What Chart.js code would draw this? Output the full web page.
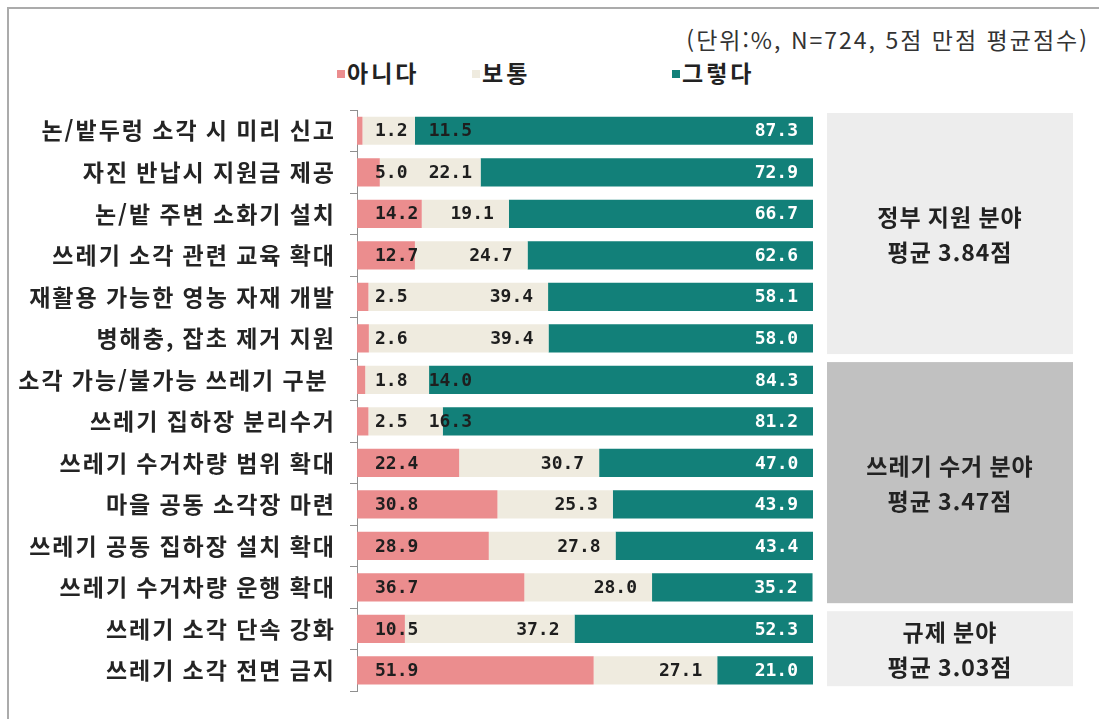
<!DOCTYPE html>
<html lang="ko">
<head>
<meta charset="utf-8">
<script src="https://cdn.jsdelivr.net/npm/chart.js@4/dist/chart.umd.min.js"></script>
<style>
  body { margin: 0; background: #fff; }
  #wrap { position: relative; width: 1099px; height: 719px; overflow: hidden; }
  #frame { position: absolute; left: 7px; top: 7px; right: -4px; bottom: -4px;
           border-left: 2px solid #ababab; border-top: 2px solid #ababab; }
  #unit { position: absolute; right: 10px; top: 22px; font: 23px "Noto Sans CJK KR";
          letter-spacing: 2px; color: #333; white-space: nowrap; }
  #legend { position: absolute; top: 55px; left: 0; font: bold 23px "Noto Sans CJK KR";
            letter-spacing: 3px; color: #222; }
  #legend span { position: absolute; white-space: nowrap; }
  #legend i { display: inline-block; width: 8px; height: 8px; margin-right: 2px; vertical-align: 4px; }
  canvas { position: absolute; left: 0; top: 0; }
</style>
</head>
<body>
<div id="wrap">
  <div id="frame"></div>
  <div id="unit">(단위:%, N=724, 5점 만점 평균점수)</div>
  <div id="legend"></div>
  <canvas id="chart" width="1099" height="719"></canvas>
</div>
<script>
// 항목 (위에서 아래 순서)
var items = [
  "논/밭두렁 소각 시 미리 신고",
  "자진 반납시 지원금 제공",
  "논/밭 주변 소화기 설치",
  "쓰레기 소각 관련 교육 확대",
  "재활용 가능한 영농 자재 개발",
  "병해충, 잡초 제거 지원",
  "소각 가능/불가능 쓰레기 구분 ",
  "쓰레기 집하장 분리수거",
  "쓰레기 수거차량 범위 확대",
  "마을 공동 소각장 마련",
  "쓰레기 공동 집하장 설치 확대",
  "쓰레기 수거차량 운행 확대",
  "쓰레기 소각 단속 강화",
  "쓰레기 소각 전면 금지"
];

var seriesNames = ["아니다", "보통", "그렇다"];
var no      = [1.2, 5.0, 14.2, 12.7, 2.5, 2.6, 1.8, 2.5, 22.4, 30.8, 28.9, 36.7, 10.5, 51.9];
var neutral = [11.5, 22.1, 19.1, 24.7, 39.4, 39.4, 14.0, 16.3, 30.7, 25.3, 27.8, 28.0, 37.2, 27.1];
var yes     = [87.3, 72.9, 66.7, 62.6, 58.1, 58.0, 84.3, 81.2, 47.0, 43.9, 43.4, 35.2, 52.3, 21.0];

// 분야 구분 (항목 인덱스 범위)
var groupNames  = ["정부 지원 분야", "쓰레기 수거 분야", "규제 분야"];
var groupScores = ["평균 3.84점", "평균 3.47점", "평균 3.03점"];
var groupFirst  = [0, 6, 12];
var groupLast   = [5, 11, 13];

var colors = ["#eb8d8e", "#efebdf", "#128079"];
var groupColors = ["#ededed", "#c1c1c1", "#eeeeee"];

// 범례
var legendX = [337, 472, 672];
var legendBox = document.getElementById("legend");
seriesNames.forEach(function (name, i) {
  var s = document.createElement("span");
  s.style.left = legendX[i] + "px";
  s.innerHTML = '<i style="background:' + colors[i] + '"></i>' + name;
  legendBox.appendChild(s);
});

// 항목 글자 간격
var textSpacing = {
  id: "textSpacing",
  beforeUpdate: function (chart) { chart.ctx.letterSpacing = "2px"; }
};

// 막대 위 수치
var valueLabels = {
  id: "valueLabels",
  afterDatasetsDraw: function (chart) {
    var ctx = chart.ctx;
    var area = chart.chartArea;
    ctx.save();
    ctx.letterSpacing = "0px";
    ctx.font = "bold 18px 'DejaVu Sans Mono'";
    ctx.textBaseline = "middle";
    chart.data.datasets.forEach(function (ds, di) {
      chart.getDatasetMeta(di).data.forEach(function (bar, i) {
        var v = ds.data[i].toFixed(1);
        var left = Math.min(bar.x, bar.base);
        var right = Math.max(bar.x, bar.base);
        if (di === 0) {
          ctx.fillStyle = "#1e1e1e";
          ctx.textAlign = "left";
          ctx.fillText(v, left + 18, bar.y + 1);
        } else if (di === 1) {
          ctx.fillStyle = "#1e1e1e";
          ctx.textAlign = "right";
          ctx.fillText(v, Math.max(right - 15, area.left + 115), bar.y + 1);
        } else {
          ctx.fillStyle = "#ffffff";
          ctx.textAlign = "right";
          ctx.fillText(v, right - 15, bar.y + 1);
        }
      });
    });
    ctx.restore();
  }
};

// 오른쪽 분야별 평균 상자
var groupBoxes = {
  id: "groupBoxes",
  afterDraw: function (chart) {
    var ctx = chart.ctx;
    var y = chart.scales.y;
    var area = chart.chartArea;
    var half = (y.getPixelForValue(1) - y.getPixelForValue(0)) / 2;
    var x0 = area.right + 14, x1 = area.right + 260;
    ctx.save();
    ctx.letterSpacing = "1px";
    groupNames.forEach(function (name, g) {
      var top = y.getPixelForValue(groupFirst[g]) - half + 3;
      var bottom = y.getPixelForValue(groupLast[g]) + half - 5;
      ctx.fillStyle = groupColors[g];
      ctx.fillRect(x0, top, x1 - x0, bottom - top);
      var cx = (x0 + x1) / 2, cy = (top + bottom) / 2;
      ctx.fillStyle = "#222";
      ctx.textAlign = "center";
      ctx.textBaseline = "middle";
      ctx.font = "bold 23px 'Noto Sans CJK KR'";
      ctx.fillText(name, cx, cy - 16);
      ctx.fillText(groupScores[g], cx, cy + 19);
    });
    ctx.restore();
  }
};

new Chart(document.getElementById("chart"), {
  type: "bar",
  data: {
    labels: items,
    datasets: [
      { label: seriesNames[0], data: no, backgroundColor: colors[0] },
      { label: seriesNames[1], data: neutral, backgroundColor: colors[1] },
      { label: seriesNames[2], data: yes, backgroundColor: colors[2] }
    ]
  },
  options: {
    indexAxis: "y",
    responsive: false,
    animation: false,
    barPercentage: 0.68,
    categoryPercentage: 1,
    layout: { padding: { top: 110, bottom: 19, left: 0, right: 286 } },
    plugins: { legend: { display: false }, tooltip: { enabled: false } },
    scales: {
      x: { stacked: true, min: 0, max: 100, display: false },
      y: {
        stacked: true,
        afterFit: function (s) { s.width = 357; },
        grid: { drawOnChartArea: false, tickLength: 7, color: "#8f8f8f", offset: true },
        border: { color: "#8f8f8f" },
        ticks: {
          color: "#242424",
          padding: 14,
          font: { family: "'Noto Sans CJK KR'", size: 23, weight: "bold" }
        }
      }
    }
  },
  plugins: [textSpacing, valueLabels, groupBoxes]
});
</script>
</body>
</html>
